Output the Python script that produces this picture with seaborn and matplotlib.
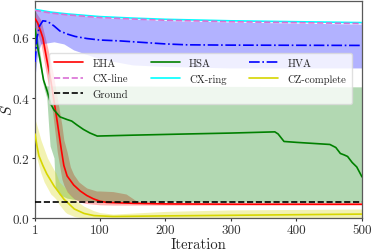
import numpy as np
import pandas as pd
import matplotlib
matplotlib.use("Agg")
import matplotlib.pyplot as plt
import seaborn as sns

# ---------------- data ----------------
eha_x = [1, 5, 10, 13, 18, 25, 30, 35, 41, 45, 50, 60, 70, 80, 90, 100, 110, 150, 200, 300, 500]
eha_y = [0.665, 0.65, 0.62, 0.60, 0.54, 0.46, 0.39, 0.32, 0.23, 0.175, 0.14, 0.11, 0.09, 0.075, 0.064, 0.056, 0.052, 0.049, 0.047, 0.046, 0.046]
eha_band_x = [1, 10, 20, 28, 35, 42, 45, 50, 55, 60, 68, 75, 80, 95, 100, 120, 140, 157, 200, 500]
eha_lo = [0.64, 0.58, 0.46, 0.35, 0.22, 0.13, 0.11, 0.087, 0.075, 0.065, 0.055, 0.05, 0.048, 0.045, 0.044, 0.043, 0.043, 0.043, 0.043, 0.043]
eha_hi = [0.69, 0.66, 0.57, 0.49, 0.40, 0.31, 0.26, 0.22, 0.17, 0.145, 0.12, 0.108, 0.10, 0.09, 0.09, 0.088, 0.08, 0.055, 0.05, 0.049]

hsa_x = [1, 5, 10, 14, 20, 25, 30, 39, 50, 57, 65, 75, 85, 96, 150, 233, 300, 367, 372, 381, 400, 451, 460, 467, 473, 478, 485, 492, 500]
hsa_y = [0.63, 0.57, 0.51, 0.46, 0.42, 0.38, 0.36, 0.337, 0.328, 0.323, 0.31, 0.295, 0.283, 0.273, 0.276, 0.28, 0.283, 0.287, 0.28, 0.255, 0.252, 0.245, 0.235, 0.215, 0.21, 0.205, 0.185, 0.17, 0.137]
hsa_band_x = [1, 5, 10, 13, 15, 19, 22, 24, 30, 32, 38, 50, 70, 100, 500]
hsa_lo = [0.61, 0.55, 0.49, 0.45, 0.43, 0.40, 0.30, 0.24, 0.20, 0.10, 0.078, 0.066, 0.058, 0.054, 0.052]
hsa_hi = [0.65, 0.60, 0.53, 0.47, 0.44, 0.44, 0.44, 0.44, 0.44, 0.44, 0.44, 0.44, 0.44, 0.44, 0.437]

hva_x = [1, 4, 8, 13, 20, 30, 39, 50, 62, 80, 100, 131, 200, 233, 300, 500]
hva_y = [0.52, 0.60, 0.64, 0.657, 0.655, 0.64, 0.623, 0.613, 0.605, 0.598, 0.593, 0.59, 0.58, 0.577, 0.576, 0.575]
hva_band_x = [1, 5, 10, 30, 45, 60, 100, 150, 200, 300, 500]
hva_lo = [0.47, 0.55, 0.58, 0.587, 0.58, 0.56, 0.53, 0.51, 0.505, 0.50, 0.50]
hva_hi = [0.70, 0.695, 0.69, 0.685, 0.68, 0.677, 0.668, 0.663, 0.658, 0.653, 0.646]

cx_x = [1, 25, 50, 100, 150, 200, 300, 400, 500]
cx_ring_y = [0.695, 0.686, 0.68, 0.671, 0.666, 0.662, 0.657, 0.654, 0.651]
cx_line_y = [0.692, 0.683, 0.677, 0.668, 0.663, 0.659, 0.654, 0.651, 0.648]

cz_x = [1, 4, 7, 13, 19, 30, 45, 61, 76, 91, 120, 200, 300, 400, 500]
cz_y = [0.28, 0.24, 0.207, 0.175, 0.147, 0.107, 0.063, 0.03, 0.015, 0.008, 0.005, 0.007, 0.009, 0.011, 0.013]
cz_band_x = [1, 5, 10, 15, 20, 25, 30, 33, 38, 47, 50, 61, 75, 90, 100, 120, 200, 300, 500]
cz_lo = [0.22, 0.19, 0.15, 0.12, 0.10, 0.08, 0.07, 0.063, 0.045, 0.02, 0.015, 0.005, 0.0, 0.0, 0.0, 0.0, 0.0, 0.0, 0.0]
cz_hi = [0.33, 0.30, 0.26, 0.23, 0.20, 0.18, 0.16, 0.15, 0.12, 0.10, 0.09, 0.063, 0.04, 0.025, 0.018, 0.013, 0.022, 0.027, 0.03]

ground_x = [1, 500]
ground_y = [0.052, 0.052]

xticks = [1, 100, 200, 300, 400, 500]
xticklabels = ["1", "100", "200", "300", "400", "500"]
yticks = [0.0, 0.2, 0.4, 0.6]
yticklabels = ["0.0", "0.2", "0.4", "0.6"]

# ---------------- style ----------------
sns.set_style("white")
plt.rcParams['font.family'] = ['cmr10', 'DejaVu Serif']
plt.rcParams['mathtext.fontset'] = 'cm'
plt.rcParams['axes.unicode_minus'] = False
plt.rcParams['axes.formatter.use_mathtext'] = True

YEL = '#d6d600'

fig = plt.figure(figsize=(3.74, 2.51), dpi=100)
ax = fig.add_axes([0.0936, 0.1275, 0.8743, 0.8645])

# bands
ax.fill_between(eha_band_x, eha_lo, eha_hi, color='red', alpha=0.3, lw=0, zorder=1)
ax.fill_between(hsa_band_x, hsa_lo, hsa_hi, color='green', alpha=0.3, lw=0, zorder=1)
ax.fill_between(hva_band_x, hva_lo, hva_hi, color='blue', alpha=0.3, lw=0, zorder=1)
ax.fill_between(cz_band_x, cz_lo, cz_hi, color=YEL, alpha=0.3, lw=0, zorder=1)

lw = 1.2
sns.lineplot(x=eha_x, y=eha_y, ax=ax, color='red', lw=lw, label='EHA', zorder=3)
sns.lineplot(x=cx_x, y=cx_ring_y, ax=ax, color='cyan', lw=lw, label='CX-ring', zorder=3)
sns.lineplot(x=cx_x, y=cx_line_y, ax=ax, color='orchid', lw=lw, label='CX-line', zorder=3, linestyle='--')
sns.lineplot(x=hsa_x, y=hsa_y, ax=ax, color='green', lw=lw, label='HSA', zorder=3)
sns.lineplot(x=hva_x, y=hva_y, ax=ax, color='blue', lw=lw, label='HVA', zorder=3, linestyle='-.')
sns.lineplot(x=cz_x, y=cz_y, ax=ax, color=YEL, lw=lw, label='CZ-complete', zorder=3)
sns.lineplot(x=ground_x, y=ground_y, ax=ax, color='black', lw=lw, label='Ground', zorder=3, linestyle='--')

handles, labels = ax.get_legend_handles_labels()
hmap = dict(zip(labels, handles))
order = ['EHA', 'CX-line', 'Ground', 'HSA', 'CX-ring', 'HVA', 'CZ-complete']
ax.legend([hmap[k] for k in order], order, ncol=3, fontsize=7.7,
          loc='upper right', bbox_to_anchor=(0.985, 0.785),
          handlelength=2.7, handletextpad=0.9, columnspacing=2.1,
          labelspacing=0.55, framealpha=0.8, edgecolor='0.85', fancybox=True,
          borderpad=0.5)

ax.set_xlim(1, 500)
ax.set_ylim(0.0, 0.723)
ax.set_xticks(xticks)
ax.set_xticklabels(xticklabels)
ax.set_yticks(yticks)
ax.set_yticklabels(yticklabels)
ax.tick_params(axis='both', labelsize=9.5, length=2.5, width=0.8, direction='out',
               pad=1.5, bottom=True, left=True, colors='0.2')
ax.set_xlabel('Iteration', fontsize=10.5, labelpad=1)
ax.set_ylabel('$S$', fontsize=11)
ax.yaxis.set_label_coords(-0.062, 0.5)
for s in ax.spines.values():
    s.set_color('0.35')
    s.set_linewidth(0.9)

fig.savefig('out.png', dpi=100)
